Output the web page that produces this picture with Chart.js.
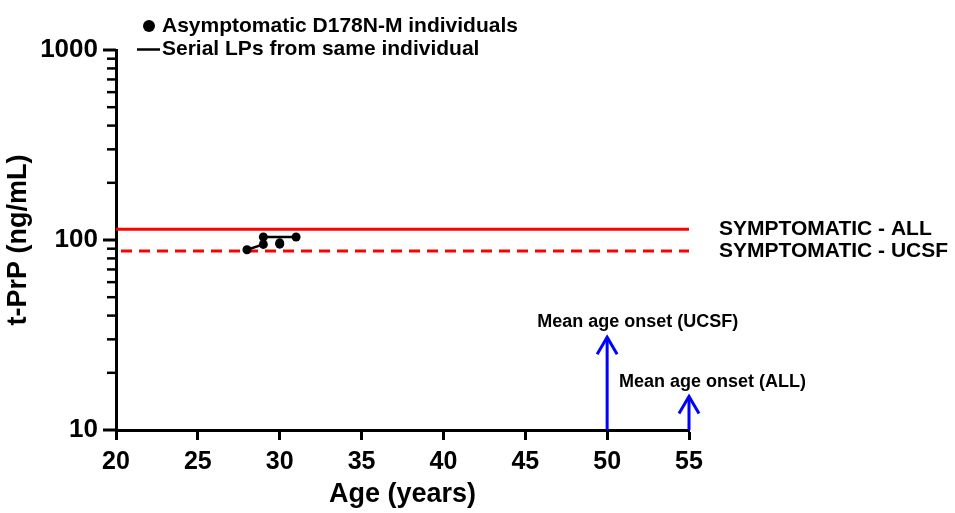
<!DOCTYPE html>
<html><head><meta charset="utf-8">
<script src="https://cdn.jsdelivr.net/npm/chart.js@4"></script>
<style>html,body{margin:0;padding:0;background:#fff}</style>
</head><body>
<canvas id="c" width="955" height="513"></canvas>
<script>
const FONT = '"Liberation Sans", Arial, Helvetica, sans-serif';

// ---- data ----
const individualAges = [28, 29, 29, 30, 30, 31];
const individualTPrP = [88.9, 103.7, 94.8, 96.6, 95.1, 103.7];
const serialA_ages = [28, 29];
const serialA_tprp = [88.9, 94.8];
const serialB_ages = [29, 31];
const serialB_tprp = [103.7, 103.7];
const refLineAges = [20, 55];
const symptomaticAll = 114;
const symptomaticUCSF = 87.5;
const refLabels = ['SYMPTOMATIC - ALL', 'SYMPTOMATIC - UCSF'];
const onsetLabels = ['Mean age onset (UCSF)', 'Mean age onset (ALL)'];
const onsetAges = [50, 55];
const onsetArrowTips = [30.8, 15.0];
const arrowBase = 10;
const legendLabels = ['Asymptomatic D178N-M individuals', 'Serial LPs from same individual'];
const xTickValues = [20, 25, 30, 35, 40, 45, 50, 55];
const yMajorTicks = [10, 100, 1000];
const yMinorTicks = [20, 30, 40, 50, 60, 70, 80, 90, 200, 300, 400, 500, 600, 700, 800, 900];

const pts = (xs, ys) => xs.map((x, i) => ({x, y: ys[i]}));

const decor = {
  id: 'decor',
  afterDatasetsDraw(chart) {
    const {ctx, chartArea} = chart;
    const xs = chart.scales.x, ys = chart.scales.y;
    ctx.save();
    // y tick marks
    ctx.strokeStyle = '#000';
    yMajorTicks.forEach(v => {
      const py = ys.getPixelForValue(v);
      ctx.lineWidth = 3;
      ctx.beginPath(); ctx.moveTo(chartArea.left - 13, py); ctx.lineTo(chartArea.left, py); ctx.stroke();
    });
    yMinorTicks.forEach(v => {
      const py = ys.getPixelForValue(v);
      ctx.lineWidth = 2.5;
      ctx.beginPath(); ctx.moveTo(chartArea.left - 9, py); ctx.lineTo(chartArea.left, py); ctx.stroke();
    });
    // arrowheads + labels
    ctx.font = 'bold 18px ' + FONT;
    ctx.textBaseline = 'middle';
    ctx.textAlign = 'left';
    onsetAges.forEach((a, i) => {
      const px = xs.getPixelForValue(a), py = ys.getPixelForValue(onsetArrowTips[i]);
      ctx.strokeStyle = '#0000ff';
      ctx.lineWidth = 3;
      ctx.beginPath();
      ctx.moveTo(px - 10, py + 17); ctx.lineTo(px, py); ctx.lineTo(px + 10, py + 17);
      ctx.stroke();
      ctx.fillStyle = '#000';
      ctx.fillText(onsetLabels[i], px - 70, py - 15);
    });
    // reference line labels
    ctx.font = 'bold 21px ' + FONT;
    ctx.fillStyle = '#000';
    [symptomaticAll, symptomaticUCSF].forEach((v, i) => {
      ctx.fillText(refLabels[i], chartArea.right + 30, ys.getPixelForValue(v));
    });
    // legend
    ctx.beginPath(); ctx.arc(149, 26, 6, 0, Math.PI * 2); ctx.fill();
    ctx.fillText(legendLabels[0], 162, 26);
    ctx.strokeStyle = '#000'; ctx.lineWidth = 2.5;
    ctx.beginPath(); ctx.moveTo(137, 49.5); ctx.lineTo(160, 49.5); ctx.stroke();
    ctx.fillText(legendLabels[1], 162, 49.5);
    ctx.restore();
  }
};

new Chart(document.getElementById('c'), {
  type: 'scatter',
  data: {
    datasets: [
      {data: pts(individualAges, individualTPrP), pointRadius: 4.5, pointHoverRadius: 4.5,
       backgroundColor: '#000', borderWidth: 0, showLine: false, clip: false},
      {data: pts(serialA_ages, serialA_tprp), showLine: true, borderColor: '#000', borderWidth: 2.5, pointRadius: 0, clip: false},
      {data: pts(serialB_ages, serialB_tprp), showLine: true, borderColor: '#000', borderWidth: 2.5, pointRadius: 0, clip: false},
      {data: pts(refLineAges, [symptomaticAll, symptomaticAll]), showLine: true, borderColor: '#ff0000', borderWidth: 3, pointRadius: 0, clip: false},
      {data: pts(refLineAges, [symptomaticUCSF, symptomaticUCSF]), showLine: true, borderColor: '#ff0000', borderWidth: 3, borderDash: [11, 7], borderDashOffset: 13, pointRadius: 0, clip: false},
      {data: pts([onsetAges[0], onsetAges[0]], [arrowBase, onsetArrowTips[0]]), showLine: true, borderColor: '#0000ff', borderWidth: 3, pointRadius: 0, clip: false},
      {data: pts([onsetAges[1], onsetAges[1]], [arrowBase, onsetArrowTips[1]]), showLine: true, borderColor: '#0000ff', borderWidth: 3, pointRadius: 0, clip: false}
    ]
  },
  options: {
    responsive: false,
    animation: false,
    events: [],
    layout: {padding: {top: 50, right: 266, bottom: 0, left: 0}},
    plugins: {legend: {display: false}, tooltip: {enabled: false}},
    scales: {
      x: {
        type: 'linear', min: 20, max: 55,
        afterBuildTicks: s => { s.ticks = xTickValues.map(v => ({value: v})); },
        afterFit: s => { s.height = 83; },
        ticks: {color: '#000', font: {family: FONT, size: 25, weight: 'bold'}, padding: 7, autoSkip: false, maxRotation: 0},
        grid: {drawOnChartArea: false, drawTicks: true, tickLength: 10, tickWidth: 3, tickColor: '#000', color: '#000'},
        border: {display: true, color: '#000', width: 3},
        title: {display: true, text: 'Age (years)', color: '#000', font: {family: FONT, size: 27, weight: 'bold'}, padding: {top: 0, bottom: 2}}
      },
      y: {
        type: 'logarithmic', min: 10, max: 1000,
        afterBuildTicks: s => { s.ticks = yMajorTicks.map(v => ({value: v, major: true})); },
        afterFit: s => { s.width = 116; },
        ticks: {color: '#000', font: {family: FONT, size: 26, weight: 'bold'}, padding: 18, autoSkip: false,
                callback: v => String(v)},
        grid: {drawOnChartArea: false, drawTicks: false},
        border: {display: true, color: '#000', width: 3},
        title: {display: true, text: 't-PrP (ng/mL)', color: '#000', font: {family: FONT, size: 27, weight: 'bold'}, padding: {top: 2, bottom: 0}}
      }
    }
  },
  plugins: [decor]
});
</script>
</body></html>
